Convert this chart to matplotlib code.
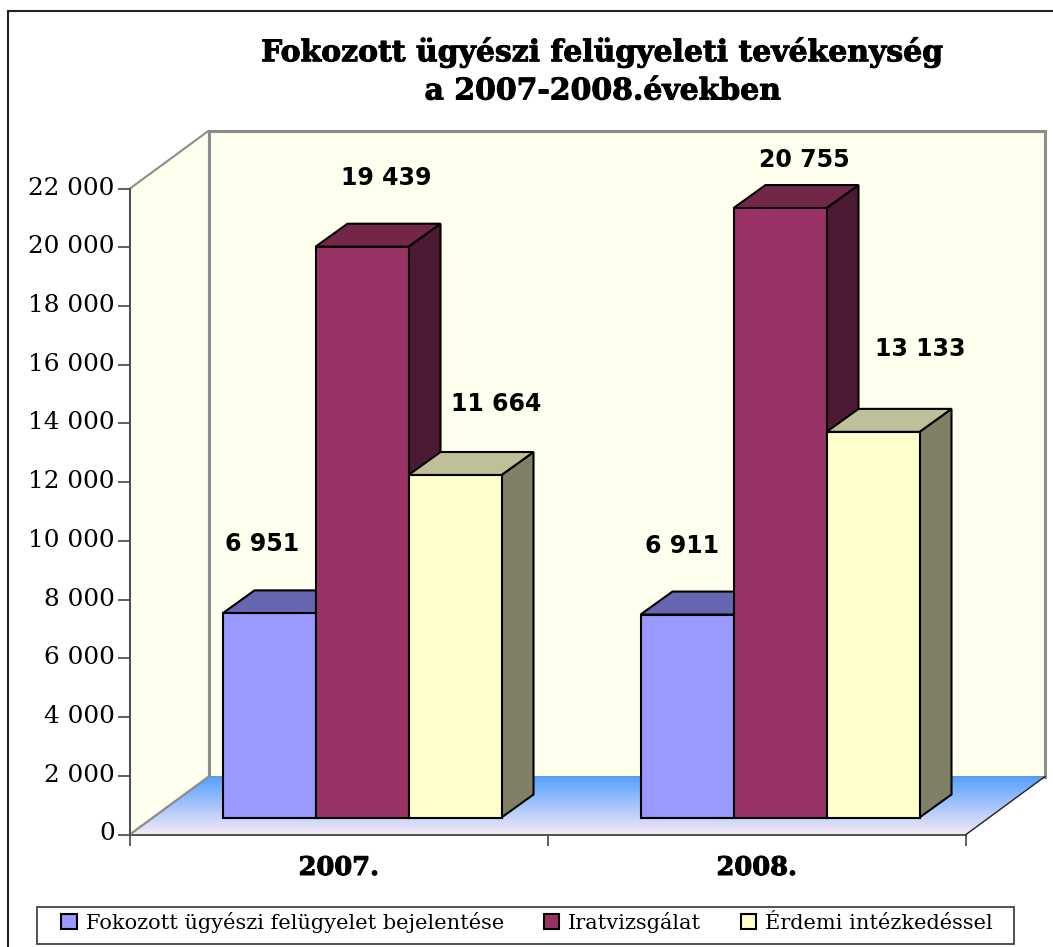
import numpy as np
import matplotlib
matplotlib.use("Agg")
import matplotlib.pyplot as plt
import matplotlib.patheffects as pe
from matplotlib.patches import Polygon, Rectangle
from matplotlib.transforms import ScaledTranslation

years = ["2007.", "2008."]
series = ["Fokozott ügyészi felügyelet bejelentése", "Iratvizsgálat", "Érdemi intézkedéssel"]
bejelentes = [6951, 6911]
iratvizsgalat = [19439, 20755]
erdemi = [11664, 13133]
yticks = list(range(0, 22001, 2000))

front = ["#9999ff", "#993366", "#ffffcc"]
top = ["#6666b3", "#722649", "#bfbf99"]
side = ["#4d4d80", "#4d1a33", "#808066"]

W, H = 1053, 947
fig = plt.figure(figsize=(W / 100, H / 100), dpi=100)
fig.patch.set_facecolor("white")


def fx(px):
    return px / W


def fy(py):
    return 1 - py / H


# outer frame of the picture, right and bottom sides run off the image
fig.add_artist(Rectangle((fx(8), fy(960)), fx(1070) - fx(8), fy(11) - fy(960), fill=False,
                         edgecolor="#222222", linewidth=1.5, transform=fig.transFigure))

# front plane of the chart: 130-966 px wide, 834-188 px high
ax = fig.add_axes([fx(130), fy(834.5), fx(966) - fx(130), fy(188.5) - fy(834.5)])
ax.set_xlim(0, 2)
ax.set_ylim(0, 22000)
ax.patch.set_visible(False)
for s in ["top", "right", "left", "bottom"]:
    ax.spines[s].set_visible(False)

ux = 2 / 836      # data units per pixel
uy = 22000 / 646
wall_dx, wall_dy = 79 * ux, 58 * uy
gap_dx, gap_dy = 23 * ux, 17 * uy
bar_dx, bar_dy = 32 * ux, 23 * uy
bar_w = 93 * ux

wall = "#ffffee"
grey = "#8c8c8c"
ax.add_patch(Polygon([(0, 0), (wall_dx, wall_dy), (wall_dx, 22000 + wall_dy), (0, 22000)],
                     facecolor=wall, edgecolor=grey, linewidth=1.5, clip_on=False, zorder=1))
ax.add_patch(Polygon([(wall_dx, wall_dy), (2 + wall_dx, wall_dy), (2 + wall_dx, 22000 + wall_dy),
                      (wall_dx, 22000 + wall_dy)],
                     facecolor=wall, edgecolor=grey, linewidth=2.2, clip_on=False, zorder=1))

# floor with the blue to lilac gradient
floor = Polygon([(0, 0), (wall_dx, wall_dy), (2 + wall_dx, wall_dy), (2, 0)],
                facecolor="none", edgecolor="none", clip_on=False)
ax.add_patch(floor)
grad = np.linspace(0, 1, 64)[:, None, None]
c_back = np.array([0.33, 0.63, 1.0])
c_front = np.array([0.96, 0.91, 0.97])
img = c_front * grad + c_back * (1 - grad)
im = ax.imshow(img, extent=(0, 2 + wall_dx, 0, wall_dy), origin="upper", aspect="auto", zorder=2)
im.set_clip_path(floor)
im.set_clip_box(fig.bbox)
ax.set_xlim(0, 2)
ax.set_ylim(0, 22000)

# floor edges
ax.plot([0, 2], [0, 0], color="#444444", lw=1.3, clip_on=False, zorder=3)
ax.plot([0, wall_dx], [0, wall_dy], color=grey, lw=1.5, clip_on=False, zorder=3)
ax.plot([2, 2 + wall_dx], [0, wall_dy], color="#222222", lw=1, clip_on=False, zorder=3)

# columns: side and top faces follow from the bar's value
x_cat = np.arange(len(years)) + 0.5
all_values = [bejelentes, iratvizsgalat, erdemi]
handles = []
for i, values in enumerate(all_values):
    xs = x_cat + (i - 1) * bar_w + gap_dx
    for x, v in zip(xs, values):
        l, r = x - bar_w / 2, x + bar_w / 2
        b, t = gap_dy, v + gap_dy
        z = 5 + i * 2
        ax.add_patch(Polygon([(r, b), (r + bar_dx, b + bar_dy), (r + bar_dx, t + bar_dy), (r, t)],
                             facecolor=side[i], edgecolor="black", lw=1.5, clip_on=False, zorder=z))
        ax.add_patch(Polygon([(l, t), (l + bar_dx, t + bar_dy), (r + bar_dx, t + bar_dy), (r, t)],
                             facecolor=top[i], edgecolor="black", lw=1.5, clip_on=False, zorder=z))
    bars = ax.bar(xs, values, width=bar_w, bottom=gap_dy, color=front[i], edgecolor="black",
                  linewidth=1.5, zorder=z + 1, clip_on=False, label=series[i])
    handles.append(bars)

# value labels, offset in pixels from the top centre of each column
label_off = [[(-7, 69), (-5, 69)], [(24, 69), (24, 48)], [(41, 71), (47, 83)]]
for i, values in enumerate(all_values):
    xs = x_cat + (i - 1) * bar_w + gap_dx
    for j, v in enumerate(values):
        txt = f"{v:,}".replace(",", " ")
        dx, dy = label_off[i][j]
        ax.annotate(txt, (xs[j], v + gap_dy), xytext=(dx * 0.72, dy * 0.72), textcoords="offset points",
                    ha="center", va="center", fontsize=17, fontweight="bold",
                    family="DejaVu Sans", annotation_clip=False, zorder=20)

ax.set_yticks(yticks)
ax.set_yticklabels([f"{v:,}".replace(",", " ") for v in yticks], family="DejaVu Serif", fontsize=17.8)
ax.set_xticks([0, 1, 2])
ax.set_xticklabels([])
ax.tick_params(axis="y", length=9, width=1.2, color="#444444", pad=2)
ax.tick_params(axis="x", length=8, width=1.2, color="#444444")
# labels sit a little above their ticks
for lab in ax.get_yticklabels():
    lab.set_transform(lab.get_transform() + ScaledTranslation(0, 3 / 100, fig.dpi_scale_trans))
ax.plot([0, 0], [0, 22000], color="#444444", lw=1.2, clip_on=False, zorder=3)
heavy = [pe.withStroke(linewidth=0.7, foreground="black")]
for x, lab in zip(x_cat, years):
    ax.annotate(lab, (x, 0), xytext=(0, -33 * 0.72), textcoords="offset points", ha="center",
                va="center", family="DejaVu Serif", fontweight="bold", fontsize=18.5,
                annotation_clip=False, path_effects=heavy)

fig.text(fx(602.5), fy(52), "Fokozott ügyészi felügyeleti tevékenység", ha="center", va="center",
         family="DejaVu Serif", fontweight="bold", fontsize=21.5, path_effects=heavy)
fig.text(fx(602.5), fy(91), "a 2007-2008.években", ha="center", va="center",
         family="DejaVu Serif", fontweight="bold", fontsize=21.5, path_effects=heavy)

# legend box is drawn by hand so it keeps the wide shape of the reference
fig.add_artist(Rectangle((fx(37), fy(944)), fx(1014) - fx(37), fy(907) - fy(944), facecolor="white",
                         edgecolor="#333333", linewidth=1.2, transform=fig.transFigure))
leg = fig.legend(handles=handles, labels=series, loc="center", ncol=3,
                 bbox_to_anchor=(fx(527), fy(922)), prop={"family": "DejaVu Serif", "size": 15},
                 frameon=False, handlelength=0.75, handleheight=0.75, handletextpad=0.42,
                 columnspacing=1.9, borderaxespad=0, borderpad=0)
leg.set_zorder(5)

fig.savefig("out.png", dpi=100)
